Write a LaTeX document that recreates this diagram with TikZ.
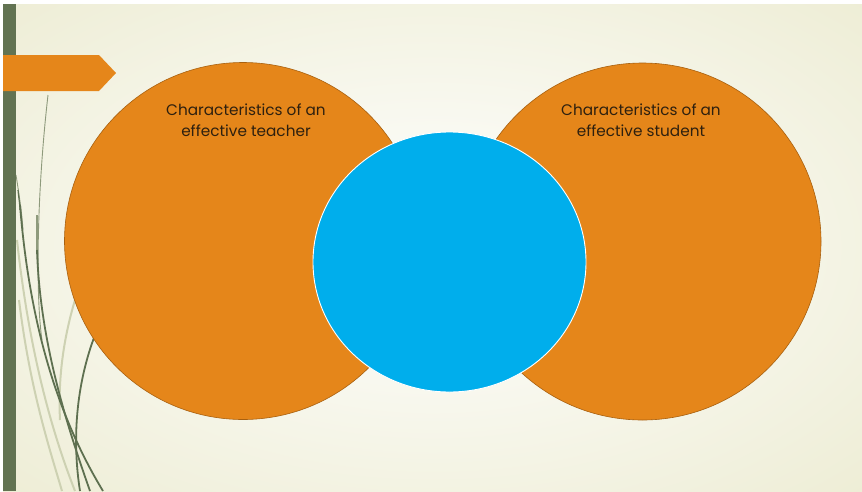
\documentclass[tikz,border=0pt]{standalone}
\usepackage{fontspec}
\setmainfont{Poppins}
\usetikzlibrary{shapes.geometric}
\definecolor{bgin}{HTML}{FBFBF6}
\definecolor{bgout}{HTML}{E8E7C7}
\definecolor{barg}{HTML}{627352}
\definecolor{grassd}{HTML}{5E7050}
\definecolor{grassm}{HTML}{8E9A7C}
\definecolor{pale}{HTML}{CDD1B2}
\definecolor{orng}{HTML}{E5861A}
\definecolor{orngline}{HTML}{A8600F}
\definecolor{blu}{HTML}{00AEEC}
\definecolor{txt}{HTML}{2E200F}
\pgfdeclareradialshading{bgshade}{\pgfpoint{0bp}{0bp}}{color(0bp)=(bgin); color(8bp)=(bgin); color(48bp)=(bgout); color(75bp)=(bgout)}
\tikzset{
  bigcirc/.style={circle, fill=orng, draw=orngline, line width=0.6pt, minimum size=357pt, inner sep=0pt},
  midcirc/.style={ellipse, fill=blu, draw=white, line width=0.9pt, minimum width=273pt, minimum height=260pt, inner sep=0pt},
  label/.style={align=center, text=txt, font=\fontsize{15.3}{21}\selectfont},
  dark/.style={draw=grassd, line width=1.8pt},
  thin/.style={draw=grassm, line width=0.9pt},
  paleline/.style={draw=pale, line width=2pt}
}
\begin{document}
\begin{tikzpicture}[x=1pt,y=-1pt]
\useasboundingbox (0,0) rectangle (862,491);
\fill[white] (0,0) rectangle (862,491);
\shade[shading=bgshade] (3,4) rectangle (862,491);
% grass
\draw[paleline] (17,240) .. controls (30,360) and (55,440) .. (75,491);
\draw[paleline] (19,300) .. controls (30,390) and (50,450) .. (62,491);
\draw[paleline] (75,300) .. controls (63,340) and (58,380) .. (60,420);
\draw[thin] (48,95) .. controls (36,200) and (36,300) .. (42,340);
\draw[thin] (16,175) .. controls (20,200) and (22,215) .. (23,230);
\draw[grassd, line width=1.2pt] (18,190) .. controls (19,200) and (20,205) .. (20,210);
\draw[dark] (20,205) .. controls (30,330) and (60,420) .. (103,491);
\draw[grassm, line width=1.2pt] (37,215) -- (37,252);
\draw[dark] (37,250) .. controls (40,340) and (65,420) .. (90,491);
\draw[dark] (95,335) .. controls (76,385) and (72,440) .. (80,491);
% bar and arrow
\fill[barg] (3,4) rectangle (16,491);
\fill[orng] (3,55) -- (99,55) -- (116,73) -- (99,91) -- (3,91) -- cycle;
% circles
\node[bigcirc] (lc) at (243,241) {};
\node[bigcirc] (rc) at (642.5,241.5) {};
\node[midcirc] (mc) at (449.5,262) {};
\node[label] (lt) at (246,120) {Characteristics of an\\effective teacher};
\node[label] (rt) at (641,120) {Characteristics of an\\effective student};
\end{tikzpicture}
\end{document}
